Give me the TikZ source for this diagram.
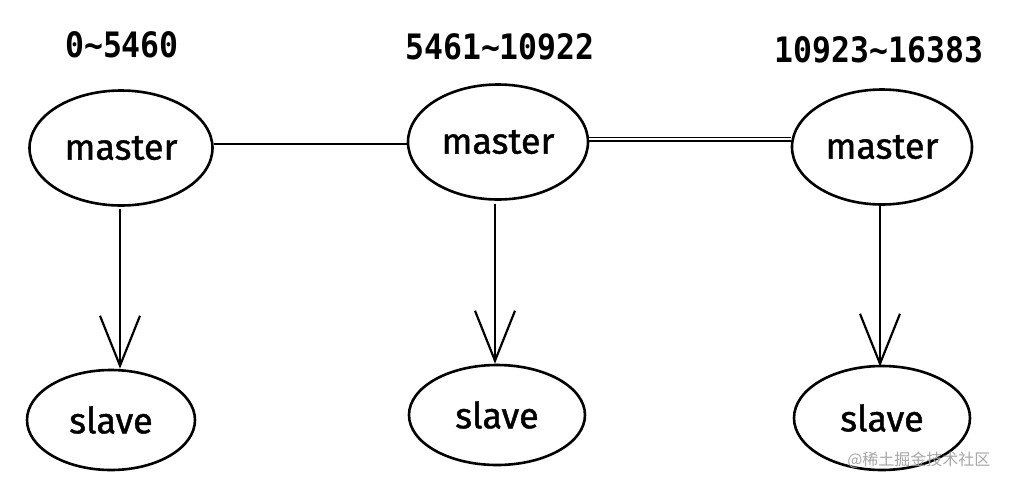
\documentclass[tikz,border=0pt]{standalone}
\usepackage{fontspec}
\setmainfont{Fira Sans}
\newfontfamily\handfont[FakeBold=1.2]{Fira Sans}
\newfontfamily\labelmono{DejaVu Sans Mono}
\newfontfamily\cjk{Noto Sans CJK SC}
\usetikzlibrary{arrows.meta,shapes.geometric}
\begin{document}
\begin{tikzpicture}[x=1pt,y=-1pt,
  nodebox/.style={draw, ellipse, line width=2.6pt, inner sep=0pt},
  rangelabel/.style={font=\labelmono\bfseries\fontsize{35}{38}\selectfont},
  hand/.style={font=\handfont\fontsize{36}{40}\selectfont},
  link/.style={line width=2.2pt},
  repl/.style={line width=2.4pt, -{Straight Barb[length=50pt,width=40pt,line width=2.2pt]}}]
\useasboundingbox (0,0) rectangle (1010,496);
% ellipses
\node[nodebox, minimum width=183pt, minimum height=115pt, hand] (m1) at (121,148) {master};
\node[nodebox, minimum width=180pt, minimum height=115pt, hand] (m2) at (498,142) {master};
\node[nodebox, minimum width=180pt, minimum height=115pt, hand] (m3) at (882,147) {master};
\node[nodebox, minimum width=168pt, minimum height=100pt, hand] (s1) at (111,420) {slave};
\node[nodebox, minimum width=176pt, minimum height=100pt, hand] (s2) at (497,415) {slave};
\node[nodebox, minimum width=176pt, minimum height=104pt, hand] (s3) at (882,418) {slave};
% range labels
\node[rangelabel] (r1) at (122,45) {\scalebox{0.9}[1]{0\char`\~5460}};
\node[rangelabel] (r2) at (500,47) {\scalebox{0.9}[1]{5461\char`\~10922}};
\node[rangelabel] (r3) at (879,50) {\scalebox{0.9}[1]{10923\char`\~16383}};
% links
\coordinate (l1) at (0,144);
\draw[link] (m1.east |- l1) -- (m2.west |- l1);
\coordinate (l2) at (0,139);
\draw[line width=1.5pt, double, double distance=2pt] (m2.east |- l2) -- (m3.west |- l2);
% replication arrows
\draw[repl] (m1.south) ++(-1,2) coordinate (a1) -- (s1.north -| a1);
\draw[repl] (m2.south) ++(-3,3) coordinate (a2) -- (s2.north -| a2);
\draw[repl] (m3.south) ++(-2,0) coordinate (a3) -- ([yshift=-2pt]s3.north -| a3);
% watermark
\node[font=\cjk\fontsize{16}{18}\selectfont, text=black!35, anchor=east] (wm) at (994,460) {@稀土掘金技术社区};
\end{tikzpicture}
\end{document}
